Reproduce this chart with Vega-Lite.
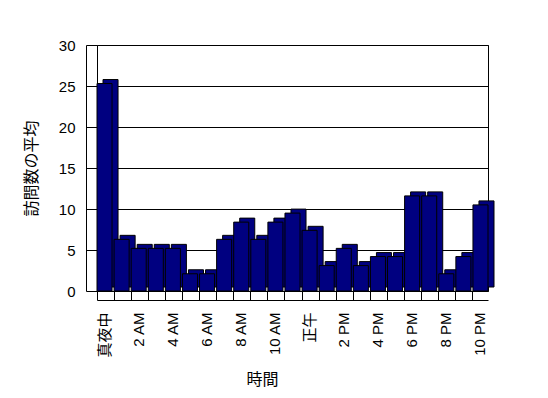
{
  "$schema": "https://vega.github.io/schema/vega-lite/v6.json",
  "width": 391,
  "height": 246,
  "autosize": "none",
  "padding": {"left": 97, "top": 45, "right": 60, "bottom": 107},
  "background": "white",
  "config": {
    "view": {"stroke": "black", "strokeWidth": 1},
    "font": "Liberation Sans, Noto Sans CJK JP"
  },
  "data": {
    "values": [
      {"hour": "真夜中", "visits": 25.3},
      {"hour": "1 AM", "visits": 6.3},
      {"hour": "2 AM", "visits": 5.2},
      {"hour": "3 AM", "visits": 5.2},
      {"hour": "4 AM", "visits": 5.2},
      {"hour": "5 AM", "visits": 2.1},
      {"hour": "6 AM", "visits": 2.1},
      {"hour": "7 AM", "visits": 6.3},
      {"hour": "8 AM", "visits": 8.4},
      {"hour": "9 AM", "visits": 6.3},
      {"hour": "10 AM", "visits": 8.4},
      {"hour": "11 AM", "visits": 9.5},
      {"hour": "正午", "visits": 7.4},
      {"hour": "1 PM", "visits": 3.1},
      {"hour": "2 PM", "visits": 5.2},
      {"hour": "3 PM", "visits": 3.1},
      {"hour": "4 PM", "visits": 4.2},
      {"hour": "5 PM", "visits": 4.2},
      {"hour": "6 PM", "visits": 11.6},
      {"hour": "7 PM", "visits": 11.6},
      {"hour": "8 PM", "visits": 2.1},
      {"hour": "9 PM", "visits": 4.2},
      {"hour": "10 PM", "visits": 10.5}
    ]
  },
  "encoding": {
    "x": {
      "field": "hour",
      "type": "ordinal",
      "sort": null,
      "scale": {"paddingInner": 0.12, "paddingOuter": 0},
      "axis": {
        "title": "時間",
        "titleFontSize": 16,
        "titleFontWeight": "normal",
        "titleColor": "black",
        "titleX": 165,
        "titlePadding": 14,
        "offset": 9,
        "tickSize": -9,
        "bandPosition": 0,
        "labelAngle": -90,
        "labelAlign": "right",
        "labelBaseline": "middle",
        "labelPadding": 21,
        "labelFontSize": 15,
        "labelColor": "black",
        "labelOverlap": false,
        "labelFlush": false,
        "labelExpr": "indexof(['真夜中','2 AM','4 AM','6 AM','8 AM','10 AM','正午','2 PM','4 PM','6 PM','8 PM','10 PM'], datum.value) >= 0 ? datum.label : ''",
        "domainColor": "black",
        "tickColor": "black",
        "grid": false
      }
    },
    "y": {
      "field": "visits",
      "type": "quantitative",
      "scale": {"domain": [0, 30], "nice": false},
      "axis": {
        "title": "訪問数の平均",
        "titleFontSize": 16,
        "titleFontWeight": "normal",
        "titleColor": "black",
        "titlePadding": 19,
        "values": [0, 5, 10, 15, 20, 25, 30],
        "offset": 11,
        "tickSize": -11,
        "labelPadding": 22,
        "labelFontSize": 15,
        "labelColor": "black",
        "domainColor": "black",
        "tickColor": "black",
        "grid": true,
        "gridColor": "black",
        "gridOpacity": 1
      }
    }
  },
  "layer": [
    {
      "mark": {"type": "bar", "fill": "#000080", "stroke": "black", "strokeWidth": 1, "xOffset": 6, "x2Offset": 6, "yOffset": -4}
    },
    {
      "mark": {"type": "bar", "fill": "#000080", "stroke": "black", "strokeWidth": 1}
    }
  ]
}
